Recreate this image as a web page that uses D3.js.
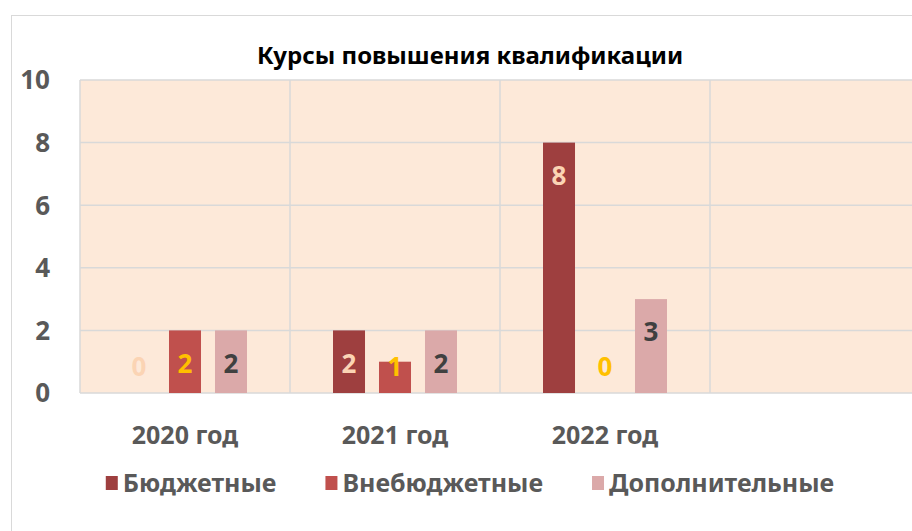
<!DOCTYPE html>
<html>
<head>
<meta charset="utf-8">
<script src="https://cdn.jsdelivr.net/npm/d3@7"></script>
<style>
  body { margin: 0; background: #fff; }
  svg { font-family: "Noto Sans", "Open Sans", sans-serif; font-weight: bold; }
</style>
</head>
<body>
<div id="chart"></div>
<script>
var categories = ['2020 год', '2021 год', '2022 год', ''];
var seriesNames = ['Бюджетные', 'Внебюджетные', 'Дополнительные'];
var budget = [0, 2, 8];
var extraBudget = [2, 1, 0];
var additional = [2, 2, 3];
var yTicks = [0, 2, 4, 6, 8, 10];

var seriesValues = [budget, extraBudget, additional];
var barColors = ['#9e3f3f', '#c0504d', '#dba9a9'];
var labelColors = ['#fbd4b4', '#ffc000', '#404040'];

var W = 912, H = 531;
var plot = {left: 80, right: 920, top: 80, bottom: 393};

var svg = d3.select('#chart').append('svg')
  .attr('width', W)
  .attr('height', H);

// chart frame
svg.append('rect')
  .attr('x', 11.5).attr('y', 15.5)
  .attr('width', 940).attr('height', 560)
  .attr('fill', '#fff')
  .attr('stroke', '#d9d9d9');

var x = d3.scaleBand().domain(categories).range([plot.left, plot.right]);
var xs = d3.scaleBand().domain(seriesNames).range([0, x.bandwidth()])
  .paddingInner(0.304).paddingOuter(0.935);
var y = d3.scaleLinear().domain([0, 10]).range([plot.bottom, plot.top]);

// plot background
svg.append('rect')
  .attr('x', plot.left).attr('y', plot.top)
  .attr('width', plot.right - plot.left).attr('height', plot.bottom - plot.top)
  .attr('fill', '#fde9d9');

// horizontal grid
svg.append('g').selectAll('line')
  .data(yTicks)
  .enter().append('line')
  .attr('x1', plot.left).attr('x2', plot.right)
  .attr('y1', d => y(d)).attr('y2', d => y(d))
  .attr('stroke', '#d9d9d9').attr('stroke-width', 1.5);

// vertical grid
svg.append('g').selectAll('line')
  .data(categories)
  .enter().append('line')
  .attr('x1', d => x(d)).attr('x2', d => x(d))
  .attr('y1', plot.top).attr('y2', plot.bottom)
  .attr('stroke', '#d9d9d9').attr('stroke-width', 1.5);

// y tick labels
svg.append('g').selectAll('text')
  .data(yTicks)
  .enter().append('text')
  .attr('x', 50)
  .attr('y', d => y(d))
  .attr('dy', '0.36em')
  .attr('text-anchor', 'end')
  .attr('font-size', 26)
  .attr('fill', '#595959')
  .text(d => d);

// bars
var rows = [];
seriesNames.forEach(function(s, si) {
  seriesValues[si].forEach(function(v, ci) {
    rows.push({series: s, si: si, cat: categories[ci], value: v});
  });
});

var bars = svg.append('g').selectAll('g')
  .data(rows)
  .enter().append('g');

bars.append('rect')
  .attr('x', d => x(d.cat) + xs(d.series))
  .attr('y', d => y(d.value))
  .attr('width', xs.bandwidth())
  .attr('height', d => y(0) - y(d.value))
  .attr('fill', d => barColors[d.si]);

bars.append('text')
  .attr('x', d => x(d.cat) + xs(d.series) + xs.bandwidth() / 2)
  .attr('y', d => Math.min(y(d.value) + 33, 367))
  .attr('dy', '0.36em')
  .attr('text-anchor', 'middle')
  .attr('font-size', 26)
  .attr('fill', d => labelColors[d.si])
  .text(d => d.value);

// category labels
svg.append('g').selectAll('text')
  .data(categories.filter(c => c))
  .enter().append('text')
  .attr('x', d => x(d) + x.bandwidth() / 2)
  .attr('y', 435)
  .attr('dy', '0.36em')
  .attr('text-anchor', 'middle')
  .attr('font-size', 25)
  .attr('fill', '#595959')
  .text(d => d);

// title
svg.append('text')
  .attr('x', 470).attr('y', 55)
  .attr('dy', '0.36em')
  .attr('text-anchor', 'middle')
  .attr('font-size', 24)
  .attr('fill', '#000')
  .text('Курсы повышения квалификации');

// legend
var legend = svg.append('g');
var items = legend.selectAll('g')
  .data(seriesNames)
  .enter().append('g');
items.append('rect')
  .attr('width', 12).attr('height', 14)
  .attr('y', -7)
  .attr('fill', (d, i) => barColors[i]);
items.append('text')
  .attr('x', 17)
  .attr('dy', '0.36em')
  .attr('font-size', 25)
  .attr('fill', '#595959')
  .text(d => d);

var offset = 0, gap = 49;
items.each(function() {
  var g = d3.select(this);
  g.attr('transform', 'translate(' + offset + ',0)');
  offset += 17 + g.select('text').node().getComputedTextLength() + gap;
});
offset -= gap;
legend.attr('transform', 'translate(' + (470 - offset / 2) + ',483)');
</script>
</body>
</html>
